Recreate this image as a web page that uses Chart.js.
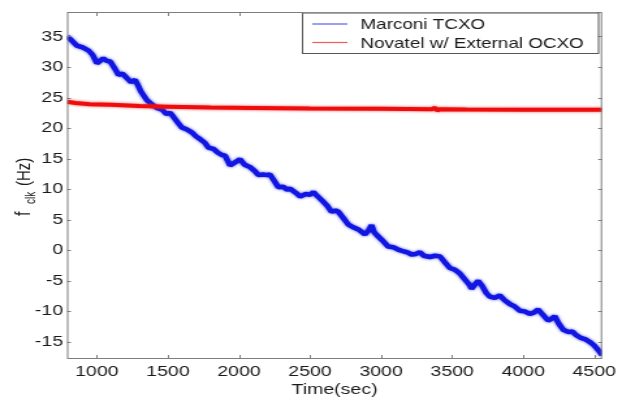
<!DOCTYPE html>
<html>
<head>
<meta charset="utf-8">
<script src="https://cdn.jsdelivr.net/npm/chart.js@4/dist/chart.umd.min.js"></script>
<style>
    html, body { margin: 0; padding: 0; background: #fff; overflow: hidden; }
    #wrap { width: 488px; height: 398px; transform: scaleX(1.3012); transform-origin: 0 0; }
</style>
</head>
<body>
<div id="wrap"><canvas id="clkChart" width="488" height="398"></canvas></div>
<script>
// Marconi TCXO clock frequency (Hz) vs time (sec)
const tcxoTime = [790, 820, 859, 900, 941, 970, 1000, 1045, 1070, 1094, 1125, 1152, 1180, 1211, 1240, 1269, 1285, 1310, 1351, 1385,
    1422, 1460, 1490, 1515, 1540, 1570, 1598, 1630, 1668, 1700, 1726, 1760, 1785, 1820, 1850, 1880, 1902, 1937, 1960, 2007,
    2040, 2078, 2110, 2136, 2170, 2200, 2218, 2250, 2277, 2310, 2340, 2359, 2400, 2430, 2470, 2500, 2524, 2550, 2582, 2620,
    2652, 2680, 2699, 2730, 2770, 2800, 2840, 2886, 2910, 2933, 2950, 2969, 3010, 3050, 3085, 3120, 3160, 3190, 3214, 3245,
    3273, 3300, 3343, 3380, 3414, 3450, 3484, 3520, 3554, 3590, 3620, 3636, 3660, 3683, 3710, 3740, 3765, 3800, 3835, 3870,
    3906, 3940, 3976, 4010, 4046, 4075, 4105, 4140, 4175, 4200, 4222, 4250, 4281, 4320, 4345, 4374, 4410, 4440, 4468, 4500,
    4538, 4555];
const tcxoFreq = [35.0, 34.4, 33.5, 33.2, 32.7, 32.0, 30.6, 31.4, 31.0, 30.9, 29.8, 28.7, 28.9, 28.2, 27.5, 27.9, 27.2, 26.0, 24.6, 23.9,
    23.3, 23.0, 22.3, 22.5, 21.8, 20.9, 20.1, 19.8, 19.3, 18.6, 18.2, 17.6, 16.8, 16.6, 16.0, 15.6, 15.5, 13.9, 14.2, 14.9,
    14.0, 13.6, 13.0, 12.3, 12.4, 12.3, 12.4, 11.3, 10.3, 10.4, 9.9, 10.1, 9.4, 8.8, 9.2, 9.1, 9.5, 8.9, 8.2, 7.3,
    6.3, 6.5, 6.3, 5.4, 4.2, 3.8, 3.4, 2.6, 3.2, 4.1, 3.0, 2.5, 1.6, 0.6, 0.5, 0.1, -0.2, -0.4, -0.7, -0.6,
    -0.3, -0.9, -1.1, -0.9, -1.0, -2.0, -2.9, -3.2, -3.8, -4.8, -5.6, -6.3, -5.6, -5.0, -5.8, -7.0, -7.6, -7.8, -7.4, -8.2,
    -8.8, -9.2, -9.9, -10.0, -10.4, -10.2, -9.7, -10.6, -11.5, -11.2, -10.8, -12.0, -13.0, -13.4, -13.3, -13.9, -14.4, -14.6, -15.0, -15.6,
    -16.6, -17.2];

// Novatel with external OCXO
const ocxoTime = [790, 850, 950, 1100, 1300, 1500, 1800, 2100, 2500, 3000, 3360, 3380, 3395, 3415, 3600, 4000, 4300, 4555];
const ocxoFreq = [24.3, 24.1, 23.9, 23.8, 23.6, 23.5, 23.35, 23.3, 23.2, 23.15, 23.1, 23.35, 22.85, 23.1, 23.05, 23.0, 23.0, 23.0];

const xTicks = [1000, 1500, 2000, 2500, 3000, 3500, 4000, 4500];
const yTicks = [-15, -10, -5, 0, 5, 10, 15, 20, 25, 30, 35];

const FONT = 'Liberation Sans, Arial, sans-serif';
const AXIS_GREY = '#7d7d7d';
const TEXT = '#1a1a1a';

function toPoints(xs, ys) {
    return xs.map((x, i) => ({ x: x, y: ys[i] }));
}

// soft edge on the traces, like the noise band of the measured signal
const softTrace = {
    id: 'softTrace',
    beforeDatasetDraw(chart, args) {
        const ds = chart.data.datasets[args.index];
        chart.ctx.save();
        chart.ctx.shadowColor = ds.haloColor;
        chart.ctx.shadowBlur = 3;
    },
    afterDatasetDraw(chart) {
        chart.ctx.restore();
    }
};

// box, inward ticks, axis titles and legend, drawn on top of the plot
const matlabFrame = {
    id: 'matlabFrame',
    afterDraw(chart) {
        const ctx = chart.ctx;
        const a = chart.chartArea;
        const xs = chart.scales.x;
        const ys = chart.scales.y;
        ctx.save();

        ctx.strokeStyle = AXIS_GREY;
        ctx.lineWidth = 1;
        ctx.strokeRect(a.left + 0.5, a.top + 0.5, a.right - a.left - 1, a.bottom - a.top - 1);

        ctx.beginPath();
        xTicks.forEach(v => {
            const px = Math.round(xs.getPixelForValue(v)) + 0.5;
            ctx.moveTo(px, a.bottom); ctx.lineTo(px, a.bottom - 4);
            ctx.moveTo(px, a.top); ctx.lineTo(px, a.top + 4);
        });
        yTicks.forEach(v => {
            const py = Math.round(ys.getPixelForValue(v)) + 0.5;
            ctx.moveTo(a.left, py); ctx.lineTo(a.left + 3, py);
            ctx.moveTo(a.right, py); ctx.lineTo(a.right - 3, py);
        });
        ctx.stroke();

        // x title
        ctx.fillStyle = TEXT;
        ctx.font = '15px ' + FONT;
        ctx.textAlign = 'center';
        ctx.textBaseline = 'alphabetic';
        ctx.fillText('Time(sec)', (a.left + a.right) / 2, 394);

        // y title: f_clk (Hz)
        ctx.save();
        ctx.translate(23, 216);
        ctx.rotate(-Math.PI / 2);
        ctx.textAlign = 'left';
        ctx.font = '16px ' + FONT;
        ctx.fillText('f', 0, 0);
        ctx.font = '10px ' + FONT;
        ctx.fillText('clk', 12, 4);
        ctx.font = '15px ' + FONT;
        ctx.fillText('(Hz)', 30, 0);
        ctx.restore();

        // legend
        const lx = 232, ly = 12.5, lw = 227.5, lh = 40.5;
        ctx.fillStyle = '#fff';
        ctx.fillRect(lx, ly, lw, lh);
        ctx.strokeStyle = '#555';
        ctx.strokeRect(lx + 0.5, ly + 0.5, lw, lh);
        ctx.font = '14.5px ' + FONT;
        ctx.textBaseline = 'middle';
        ctx.textAlign = 'left';
        const rows = [24, 42.5];
        chart.data.datasets.forEach((ds, i) => {
            ctx.strokeStyle = ds.legendColor;
            ctx.lineWidth = 1.2;
            ctx.beginPath();
            ctx.moveTo(240, rows[i]);
            ctx.lineTo(267, rows[i]);
            ctx.stroke();
            ctx.fillStyle = TEXT;
            ctx.fillText(ds.label, 277, rows[i] + 1);
        });
        ctx.restore();
    }
};

const ctx = document.getElementById('clkChart').getContext('2d');
const clkChart = new Chart(ctx, {
    type: 'line',
    data: {
        datasets: [{
            label: 'Marconi TCXO',
            data: toPoints(tcxoTime, tcxoFreq),
            borderColor: 'rgb(18, 22, 225)',
            haloColor: 'rgba(40, 50, 240, 0.8)',
            legendColor: 'rgb(90, 95, 235)',
            borderWidth: 4.5,
            borderJoinStyle: 'bevel',
            pointRadius: 0,
            tension: 0,
            order: 1
        }, {
            label: 'Novatel w/ External OCXO',
            data: toPoints(ocxoTime, ocxoFreq),
            borderColor: 'rgb(238, 12, 12)',
            haloColor: 'rgba(245, 40, 40, 0.8)',
            legendColor: 'rgb(240, 90, 90)',
            borderWidth: 4,
            borderJoinStyle: 'bevel',
            pointRadius: 0,
            tension: 0,
            order: 0
        }]
    },
    options: {
        responsive: false,
        animation: false,
        devicePixelRatio: 1,
        layout: { padding: { top: 8, right: 25.3, left: 0, bottom: 0 } },
        plugins: { legend: { display: false }, tooltip: { enabled: false } },
        scales: {
            x: {
                type: 'linear',
                min: 790,
                max: 4555,
                afterBuildTicks: scale => { scale.ticks = xTicks.map(v => ({ value: v })); },
                afterFit: scale => { scale.height = 39; },
                grid: { display: false, drawTicks: false },
                border: { display: false },
                ticks: {
                    color: TEXT, font: { family: FONT, size: 15 }, padding: 4, maxRotation: 0, autoSkip: false,
                    callback: v => String(v)
                }
            },
            y: {
                type: 'linear',
                min: -17.8,
                max: 39,
                afterBuildTicks: scale => { scale.ticks = yTicks.map(v => ({ value: v })); },
                afterFit: scale => { scale.width = 51.5; },
                grid: { display: false, drawTicks: false },
                border: { display: false },
                ticks: { color: TEXT, font: { family: FONT, size: 15 }, padding: 3, autoSkip: false }
            }
        }
    },
    plugins: [softTrace, matlabFrame]
});
</script>
</body>
</html>
